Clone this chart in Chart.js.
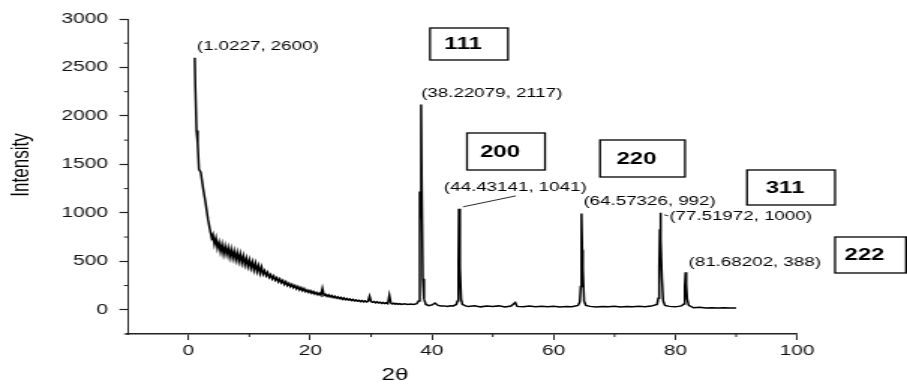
<!DOCTYPE html>
<html>
<head>
<meta charset="utf-8">
<script src="https://cdn.jsdelivr.net/npm/chart.js@4.4.1/dist/chart.umd.min.js"></script>
<style>
  html, body { margin: 0; padding: 0; background: #fff; overflow: hidden; }
  /* the reference is stretched sideways, so the chart is drawn narrow and widened */
  #wrap { width: 605px; height: 386px; transform: scaleX(1.49917); transform-origin: 0 0; }
</style>
</head>
<body>
<div id="wrap"><canvas id="xrd"></canvas></div>
<script>
// Diffractogramme : angle 2θ et intensité
const angle = [
  1.0227, 1.1, 1.3, 1.5, 1.7, 2.0, 2.4, 2.8, 3.2, 3.6, 3.8,
  4.0, 4.25, 4.5, 4.75, 5.0, 5.25, 5.5, 5.75, 6.0, 6.25, 6.5, 6.75, 7.0, 7.25, 7.5, 7.75,
  8.0, 8.25, 8.5, 8.75, 9.0, 9.25, 9.5, 9.75, 10.0, 10.25, 10.5, 10.75, 11.0, 11.25, 11.5, 11.75,
  12.0, 12.25, 12.5, 12.75, 13.0, 13.25, 13.5, 13.75, 14.0, 14.25, 14.5, 14.75, 15.0, 15.25, 15.5, 15.75,
  16.0, 16.25, 16.5, 16.75, 17.0, 17.25, 17.5, 17.75, 18.0, 18.25, 18.5, 18.75, 19.0, 19.25, 19.5, 19.75,
  20.0, 20.25, 20.5, 20.75, 21.0, 21.25, 21.5, 21.75, 22.0, 22.25, 22.5, 22.75, 23.0, 23.25, 23.5, 23.75,
  24.0, 24.25, 24.5, 24.75, 25.0, 25.25, 25.5, 25.75, 26.0, 26.25, 26.5, 26.75, 27.0, 27.25, 27.5, 27.75,
  28.0, 28.25, 28.5, 28.75, 29.0, 29.25, 29.5, 29.75, 30.0, 30.25, 30.5, 30.75, 31.0, 31.25, 31.5, 31.75,
  32.0, 32.25, 32.5, 32.75, 33.0, 33.25, 33.5, 33.75, 34.0, 34.25, 34.5, 34.75, 35.0, 35.5, 36.0, 36.5,
  37.0, 37.5, 37.8, 38.0, 38.1, 38.22079, 38.35, 38.5, 38.7, 39.0, 39.5, 40.0, 40.5, 41.0, 41.5, 42.0,
  42.5, 43.0, 43.5, 44.0, 44.2, 44.35, 44.43141, 44.55, 44.65, 44.8, 45.0, 45.5,
  46, 47, 48, 49, 50, 51, 52, 53, 53.7, 54, 55, 56, 57, 58, 59, 60, 61, 62, 63, 64,
  64.3, 64.45, 64.57326, 64.7, 64.8, 65.0, 65.3,
  66, 67, 68, 69, 70, 71, 72, 73, 74, 75, 76, 77,
  77.2, 77.35, 77.45, 77.51972, 77.65, 77.8, 78.0, 78.3,
  79, 80, 81, 81.4, 81.55, 81.68202, 81.8, 81.95, 82.2,
  83, 84, 85, 86, 87, 88, 89, 90
];
const intensite = [
  2600, 2330, 1850, 1720, 1450, 1420, 1250, 1100, 930, 800, 740,
  775, 675, 740, 635, 695, 600, 675, 575, 655, 570, 640, 545, 625, 533, 605, 515,
  590, 500, 575, 483, 555, 465, 530, 447, 515, 430, 493, 410, 480, 395, 455, 377,
  440, 368, 402, 352, 385, 335, 362, 318, 348, 305, 330, 290, 318, 278, 302, 262,
  288, 250, 272, 238, 262, 228, 250, 215, 238, 205, 228, 196, 218, 186, 205, 178,
  198, 170, 188, 162, 180, 155, 172, 150, 220, 148, 160, 138, 155, 132, 148, 126,
  140, 120, 134, 114, 128, 108, 122, 104, 116, 100, 112, 96, 106, 92, 102, 88,
  98, 85, 95, 82, 92, 80, 88, 140, 84, 76, 85, 72, 82, 70, 78, 66,
  75, 64, 72, 62, 150, 70, 60, 68, 58, 66, 56, 63, 55, 62, 54, 60,
  55, 62, 90, 1220, 950, 2117, 1150, 320, 110, 55, 42, 50, 70, 45, 38, 40,
  35, 42, 40, 55, 90, 500, 1041, 780, 440, 110, 55, 40,
  35, 42, 30, 38, 33, 40, 28, 38, 75, 35, 30, 38, 32, 36, 30, 35, 28, 34, 32, 45,
  80, 240, 992, 620, 420, 90, 45,
  35, 28, 34, 30, 36, 29, 33, 30, 35, 31, 38, 55,
  120, 460, 830, 1000, 720, 320, 90, 45,
  35, 30, 40, 60, 240, 388, 260, 110, 45,
  20, 26, 18, 22, 18, 20, 17, 18
];

// Pics repérés et indices de Miller
const picAngle = [1.0227, 38.22079, 44.43141, 64.57326, 77.51972, 81.68202];
const picIntensite = [2600, 2117, 1041, 992, 1000, 388];
const indicesHkl = ['111', '200', '220', '311', '222'];

// Graduations
const ticksX = [0, 20, 40, 60, 80, 100];
const ticksY = [0, 500, 1000, 1500, 2000, 2500, 3000];
const ticksXMineurs = [10, 30, 50, 70, 90];
const ticksYMineurs = [-250, 250, 750, 1250, 1750, 2250, 2750];

const SX = 1.49917; // étirement horizontal
const police = 'Arial, "Liberation Sans", sans-serif';

// décalages des étiquettes de pics (px de la page, avant étirement)
const decalEtiquettes = [[2, -8], [0, -8], [-15, -18], [2, -9], [9, 7], [3, -6]];
// cadres hkl : gauche, haut, droite, bas (px de la page)
const cadres = [[430, 28, 508, 60], [467, 133, 545, 170], [600, 140, 685, 177], [747, 170, 835, 205], [835, 237, 906, 273]];

const decor = {
    id: 'decor',
    afterDraw(chart) {
        const ctx = chart.ctx;
        const area = chart.chartArea;
        const sx = chart.scales.x, sy = chart.scales.y;
        ctx.save();

        // petites graduations
        ctx.strokeStyle = '#222';
        ctx.lineWidth = 1;
        ctx.beginPath();
        ticksXMineurs.forEach(v => {
            const px = sx.getPixelForValue(v);
            ctx.moveTo(px, area.bottom);
            ctx.lineTo(px, area.bottom + 3);
        });
        ticksYMineurs.forEach(v => {
            const py = sy.getPixelForValue(v);
            ctx.moveTo(area.left, py);
            ctx.lineTo(area.left - 2.5, py);
        });
        ctx.stroke();

        // étiquettes des pics
        ctx.fillStyle = '#000';
        ctx.font = '12.5px ' + police;
        ctx.textAlign = 'left';
        ctx.textBaseline = 'alphabetic';
        picAngle.forEach((a, i) => {
            const px = sx.getPixelForValue(a);
            const py = sy.getPixelForValue(picIntensite[i]);
            const d = decalEtiquettes[i];
            ctx.fillText('(' + a + ', ' + picIntensite[i] + ')', px + d[0] / SX, py + d[1]);
        });
        // traits de rappel
        ctx.strokeStyle = '#111';
        ctx.lineWidth = 0.9;
        ctx.beginPath();
        const p3x = sx.getPixelForValue(picAngle[2]), p3y = sy.getPixelForValue(picIntensite[2]);
        ctx.moveTo(p3x + 4 / SX, p3y - 2);
        ctx.lineTo(p3x + 57 / SX, p3y - 13);
        const p5x = sx.getPixelForValue(picAngle[4]), p5y = sy.getPixelForValue(picIntensite[4]);
        ctx.moveTo(p5x + 4 / SX, p5y + 2);
        ctx.lineTo(p5x + 8 / SX, p5y + 3);
        ctx.stroke();

        // cadres hkl
        ctx.strokeStyle = '#000';
        ctx.lineWidth = 1.3;
        ctx.font = 'bold 16px ' + police;
        ctx.textAlign = 'center';
        ctx.textBaseline = 'middle';
        ctx.fillStyle = '#000';
        cadres.forEach((c, i) => {
            const l = c[0] / SX, r = c[2] / SX;
            ctx.strokeRect(l, c[1], r - l, c[3] - c[1]);
            ctx.fillText(indicesHkl[i], (l + r) / 2 - 4, (c[1] + c[3]) / 2 + 1);
        });

        // titres des axes
        ctx.fillStyle = '#000';
        ctx.font = '16px ' + police;
        ctx.fillText('2θ', 395 / SX, 376);
        ctx.translate(21 / SX, 165);
        ctx.rotate(-Math.PI / 2);
        ctx.font = '17px ' + police;
        ctx.fillText('Intensity', 0, 0);
        ctx.restore();
    }
};

new Chart(document.getElementById('xrd'), {
    type: 'line',
    data: {
        datasets: [{
            data: angle.map((a, i) => ({ x: a, y: intensite[i] })),
            borderColor: '#000',
            borderWidth: 1.5,
            pointRadius: 0,
            tension: 0,
            fill: false
        }]
    },
    options: {
        responsive: true,
        maintainAspectRatio: false,
        animation: false,
        layout: { padding: { top: 19, right: 605 - 797 / SX, bottom: 0, left: 0 } },
        plugins: { legend: { display: false }, tooltip: { enabled: false } },
        scales: {
            x: {
                type: 'linear',
                min: -10,
                max: 100,
                afterBuildTicks: s => { s.ticks = ticksX.map(v => ({ value: v })); },
                afterFit: s => { s.height = 52; },
                ticks: { color: '#111', padding: 3, font: { family: police, size: 14 }, maxRotation: 0, callback: v => String(v) },
                grid: { drawOnChartArea: false, tickLength: 6, tickColor: '#222', tickWidth: 1 },
                border: { color: '#222', width: 1.5 }
            },
            y: {
                min: -250,
                max: 3000,
                afterBuildTicks: s => { s.ticks = ticksY.map(v => ({ value: v })); },
                afterFit: s => { s.width = 127.7 / SX; },
                ticks: { color: '#111', padding: 7.6, font: { family: police, size: 14 }, callback: v => String(v) },
                grid: { drawOnChartArea: false, tickLength: 5.5, tickColor: '#222', tickWidth: 1.2 },
                border: { color: '#222', width: 1 }
            }
        }
    },
    plugins: [decor]
});
</script>
</body>
</html>
